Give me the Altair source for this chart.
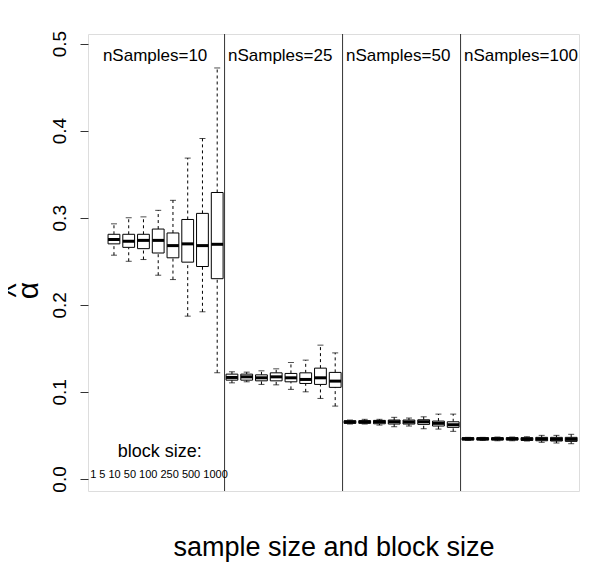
import altair as alt
import pandas as pd

sample_sizes = [10, 25, 50, 100]
block_sizes = [1, 5, 10, 50, 100, 250, 500, 1000]

whisker_low = [0.257, 0.250, 0.252, 0.234, 0.229, 0.187, 0.192, 0.122,
               0.1104, 0.1116, 0.1086, 0.1081, 0.1029, 0.1001, 0.0925, 0.0837,
               0.0631, 0.0631, 0.0619, 0.0600, 0.0608, 0.0577, 0.0573, 0.0547,
               0.0443, 0.0443, 0.0439, 0.0439, 0.0436, 0.0421, 0.0413, 0.0405]
q1 = [0.270, 0.266, 0.2645, 0.2595, 0.254, 0.249, 0.244, 0.230,
      0.1135, 0.1135, 0.1127, 0.1127, 0.1116, 0.1097, 0.1086, 0.1052,
      0.0639, 0.0639, 0.0634, 0.0631, 0.0631, 0.0627, 0.0608, 0.0593,
      0.0447, 0.0447, 0.0447, 0.0447, 0.0443, 0.0439, 0.0436, 0.0432]
median = [0.275, 0.273, 0.274, 0.274, 0.268, 0.270, 0.268, 0.2695,
          0.1166, 0.1173, 0.1162, 0.1173, 0.1162, 0.1143, 0.1162, 0.1124,
          0.0654, 0.0657, 0.0657, 0.0657, 0.0654, 0.0657, 0.0639, 0.0623,
          0.0462, 0.0462, 0.0462, 0.0462, 0.0459, 0.0459, 0.0455, 0.0455]
q3 = [0.281, 0.281, 0.281, 0.287, 0.2825, 0.298, 0.305, 0.329,
      0.1204, 0.1204, 0.1196, 0.1219, 0.1212, 0.1219, 0.1273, 0.1224,
      0.0669, 0.0669, 0.0673, 0.0677, 0.0677, 0.0680, 0.0665, 0.0657,
      0.0474, 0.0474, 0.0474, 0.0474, 0.0474, 0.0478, 0.0478, 0.0478]
whisker_high = [0.293, 0.300, 0.301, 0.3085, 0.320, 0.3685, 0.391, 0.472,
                0.1231, 0.1227, 0.1242, 0.1265, 0.1338, 0.1365, 0.1537, 0.1448,
                0.0677, 0.0685, 0.0685, 0.0708, 0.0700, 0.0714, 0.0745, 0.0745,
                0.0478, 0.0478, 0.0482, 0.0482, 0.0485, 0.0501, 0.0501, 0.0513]

FONT = "Liberation Sans"
LINE = "#333333"
nb = len(block_sizes)

rows = []
for g, n in enumerate(sample_sizes):
    for b, bs in enumerate(block_sizes):
        i = g * nb + b
        rows.append(dict(pos=i + 1, n=n, block=bs, lo=whisker_low[i], q1=q1[i],
                         med=median[i], q3=q3[i], hi=whisker_high[i]))
df = pd.DataFrame(rows)

xs = alt.Scale(domain=[-0.76, 32.53], nice=False, zero=False)
ys = alt.Scale(domain=[-0.0138, 0.511], nice=False, zero=False)

xenc = alt.X("pos:Q", scale=xs,
             axis=alt.Axis(labels=False, ticks=False, domain=False, grid=False,
                           title="sample size and block size", titleFont=FONT,
                           titleFontSize=27, titleFontWeight="normal",
                           titleColor="black", titlePadding=43))
yaxis = alt.Axis(values=[0, 0.1, 0.2, 0.3, 0.4, 0.5], format=".1f", grid=False,
                 domain=False, tickColor=LINE, tickSize=8, labelFont=FONT,
                 labelFontSize=19, labelColor="black", labelAngle=270,
                 labelAlign="center", labelBaseline="bottom", labelPadding=11,
                 title=["^", "α"], titleFont=FONT, titleFontSize=30,
                 titleFontWeight="normal", titleColor="black", titleLineHeight=12,
                 titlePadding=7, titleY=256)

base = alt.Chart(df)

whisk_lo = base.mark_rule(color="black", strokeDash=[3, 3], strokeWidth=1).encode(
    x=xenc, y=alt.Y("lo:Q", scale=ys, axis=yaxis), y2="q1:Q")
whisk_hi = base.mark_rule(color="black", strokeDash=[3, 3], strokeWidth=1).encode(
    x="pos:Q", y="q3:Q", y2="hi:Q")
cap_lo = base.mark_tick(color="black", orient="horizontal", size=6, thickness=1).encode(
    x="pos:Q", y="lo:Q")
cap_hi = base.mark_tick(color="black", orient="horizontal", size=6, thickness=1).encode(
    x="pos:Q", y="hi:Q")
box = base.transform_calculate(xl="datum.pos - 0.4", xr="datum.pos + 0.4").mark_rect(
    fill="white", stroke="black", strokeWidth=1).encode(
    x="xl:Q", x2="xr:Q", y="q1:Q", y2="q3:Q")
med = base.transform_calculate(xl="datum.pos - 0.4", xr="datum.pos + 0.4").mark_rule(
    color="black", strokeWidth=3).encode(x="xl:Q", x2="xr:Q", y="med:Q")

sep_df = pd.DataFrame({"sep": [g * nb + 0.5 for g in range(1, len(sample_sizes))]})
seps = alt.Chart(sep_df).mark_rule(color=LINE, strokeWidth=1).encode(x="sep:Q")

lab_df = pd.DataFrame({
    "lx": [0.25 if g == 0 else g * nb + 0.73 for g in range(len(sample_sizes))],
    "ly": [0.486] * len(sample_sizes),
    "txt": [f"nSamples={n}" for n in sample_sizes]})
labels = alt.Chart(lab_df).mark_text(font=FONT, fontSize=17, align="left",
                                     baseline="middle", color="black").encode(
    x="lx:Q", y="ly:Q", text="txt:N")

bs_df = pd.DataFrame({"lx": [4.1, 4.05], "ly": [0.031, 0.0046],
                      "txt": ["block size:", " ".join(str(b) for b in block_sizes)]})
bs_title = alt.Chart(bs_df.iloc[[0]]).mark_text(font=FONT, fontSize=18, align="center",
                                                baseline="middle", color="black").encode(
    x="lx:Q", y="ly:Q", text="txt:N")
bs_vals = alt.Chart(bs_df.iloc[[1]]).mark_text(font=FONT, fontSize=11, align="center",
                                               baseline="middle", color="black").encode(
    x="lx:Q", y="ly:Q", text="txt:N")

chart = alt.layer(whisk_lo, whisk_hi, cap_lo, cap_hi, box, med, seps, labels,
                  bs_title, bs_vals).properties(
    width=491, height=457,
    autosize=alt.AutoSizeParams(type="none"),
    padding={"left": 80, "top": 26, "right": 12, "bottom": 75},
).configure_view(stroke=LINE, strokeWidth=1).configure(background="white")

chart.save("out.html", embed_options={"renderer": "svg", "actions": False})
